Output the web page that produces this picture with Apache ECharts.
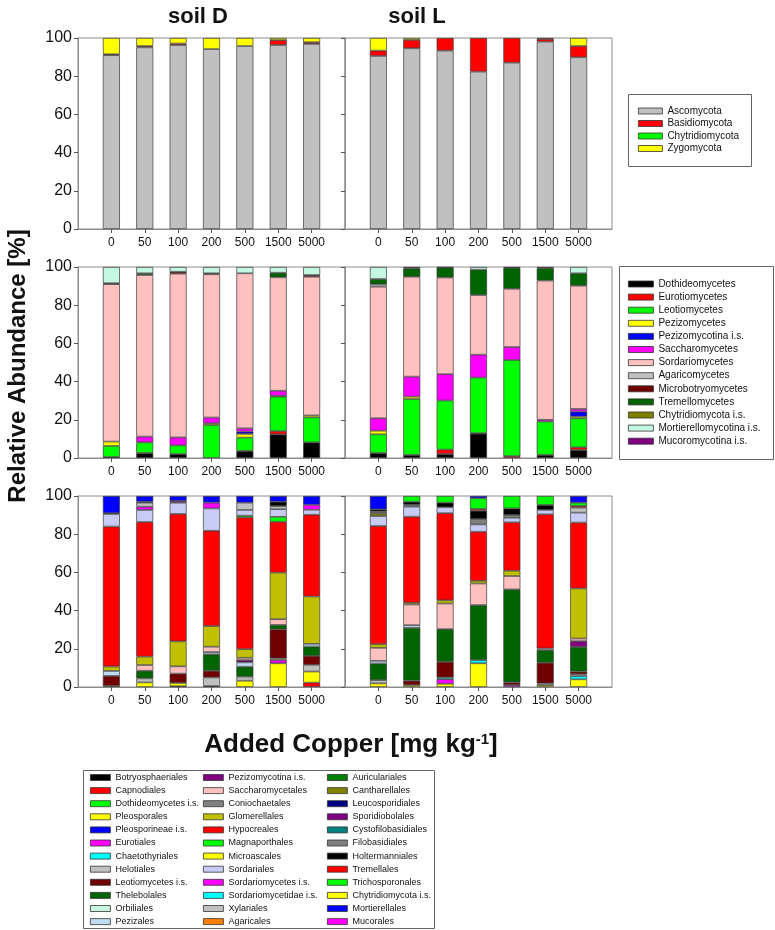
<!DOCTYPE html>
<html>
<head>
<meta charset="utf-8">
<script src="https://cdn.jsdelivr.net/npm/echarts@6/dist/echarts.min.js"></script>
<style>
  html, body { margin: 0; padding: 0; background: #fff; }
  #chart { width: 775px; height: 930px; }
</style>
</head>
<body>
<div id="chart"></div>
<script>
// added copper levels (mg/kg), one bar each
var copperLevels = ['0', '50', '100', '200', '500', '1500', '5000'];

// ---- phylum level ----
var phylumNames = ['Ascomycota', 'Basidiomycota', 'Chytridiomycota', 'Zygomycota'];
var phylumColors = ['#c0c0c0', '#ff0000', '#00ff00', '#ffff00'];
var phylumSoilD = [
  [91.0, 95.1, 96.3, 94.2, 95.8, 96.3, 96.9],
  [0.5, 0.7, 0.8, 0, 0, 2.6, 0.9],
  [0, 0, 0, 0, 0, 0, 0],
  [8.5, 4.2, 2.9, 5.8, 4.2, 1.1, 2.2]
];
var phylumSoilL = [
  [90.6, 94.6, 93.4, 82.4, 87.1, 98.1, 89.9],
  [2.8, 4.4, 6.6, 17.6, 12.9, 1.4, 5.9],
  [0, 0, 0, 0, 0, 0, 0],
  [6.6, 1.0, 0, 0, 0, 0.5, 4.2]
];

// ---- class level ----
var classNames = ['Dothideomycetes', 'Eurotiomycetes', 'Leotiomycetes', 'Pezizomycetes',
  'Pezizomycotina i.s.', 'Saccharomycetes', 'Sordariomycetes', 'Agaricomycetes',
  'Microbotryomycetes', 'Tremellomycetes', 'Chytridiomycota i.s.',
  'Mortierellomycotina i.s.', 'Mucoromycotina i.s.'];
var classColors = ['#000000', '#ff0000', '#00ff00', '#ffff00', '#0000ff', '#ff00ff', '#ffc0c0',
  '#c0c0c0', '#700000', '#006400', '#808000', '#c4f8e2', '#800080'];
var classSoilD = [
  [0.5, 2.6, 2.1, 0, 3.7, 12.4, 8.2],
  [0, 0, 0, 0, 0, 1.7, 0],
  [5.8, 5.6, 4.5, 17.3, 7.0, 18.0, 13.1],
  [2.3, 0, 0, 0.9, 1.9, 0.5, 1.0],
  [0, 0, 0, 0, 1.2, 0, 0],
  [0, 3.0, 4.2, 3.0, 1.7, 2.6, 0],
  [82.4, 84.6, 85.7, 75.0, 81.2, 59.4, 72.6],
  [0, 0, 0, 0, 0, 0, 0],
  [0.5, 0, 1.0, 0, 0, 0, 0.9],
  [0, 0.9, 0, 0.5, 0, 2.4, 0],
  [0, 0, 0, 0, 0, 0, 0],
  [8.5, 3.3, 2.5, 3.3, 3.3, 3.0, 4.2],
  [0, 0, 0, 0, 0, 0, 0]
];
var classSoilL = [
  [2.6, 1.6, 2.1, 12.7, 0, 1.6, 4.2],
  [0, 0, 2.3, 0.3, 1.0, 0, 1.4],
  [9.8, 29.3, 25.7, 29.1, 50.3, 17.5, 15.2],
  [1.9, 1.2, 0, 0, 0, 0, 0.9],
  [0, 0, 0, 0, 0, 0, 2.6],
  [6.5, 10.5, 13.8, 12.0, 6.8, 0.9, 1.4],
  [68.9, 52.3, 50.6, 31.2, 30.5, 72.9, 64.5],
  [1.2, 0, 0, 0, 0, 0, 0],
  [0, 0, 0, 0, 0, 0, 0],
  [2.8, 4.4, 5.2, 13.3, 11.0, 6.5, 6.5],
  [0, 0, 0, 0, 0, 0, 0],
  [6.3, 0, 0, 1.4, 0, 0, 3.3],
  [0, 0.7, 0.3, 0, 0.4, 0.6, 0]
];

// ---- order level ----
var orderNames = ['Botryosphaeriales', 'Capnodiales', 'Dothideomycetes i.s.', 'Pleosporales',
  'Pleosporineae i.s.', 'Eurotiales', 'Chaetothyriales', 'Helotiales', 'Leotiomycetes i.s.',
  'Thelebolales', 'Orbiliales', 'Pezizales',
  'Pezizomycotina i.s.', 'Saccharomycetales', 'Coniochaetales', 'Glomerellales', 'Hypocreales',
  'Magnaporthales', 'Microascales', 'Sordariales', 'Sordariomycetes i.s.',
  'Sordariomycetidae i.s.', 'Xylariales', 'Agaricales',
  'Auriculariales', 'Cantharellales', 'Leucosporidiales', 'Sporidiobolales',
  'Cystofilobasidiales', 'Filobasidiales', 'Holtermanniales', 'Tremellales',
  'Trichosporonales', 'Chytridiomycota i.s.', 'Mortierellales', 'Mucorales'];
var orderColors = ['#000000', '#ff0000', '#00ff00', '#ffff00', '#0000ff', '#ff00ff', '#00ffff',
  '#c0c0c0', '#700000', '#006400', '#c8f5e0', '#c0dcf0',
  '#800080', '#ffc0c0', '#808080', '#c0c000', '#ff0000', '#00ff00', '#ffff00', '#c8ccf5',
  '#ff00ff', '#00ffff', '#c0c0c0', '#ff8000',
  '#008000', '#808000', '#000080', '#800080', '#008080', '#808080', '#000000', '#ff0000',
  '#00ff00', '#ffff00', '#0000ff', '#ff00ff'];
var orderSoilD = [
  [0, 0, 0.4, 0.5, 0, 0, 0],
  [0, 0, 0, 0, 0, 0, 2.3],
  [0, 0, 0, 0, 0, 0, 0],
  [0.6, 2.4, 1.7, 0, 3.3, 12.4, 5.8],
  [0, 0, 0, 0, 0, 0, 0],
  [0, 0, 0, 0, 0, 1.7, 0],
  [0, 0, 0, 0, 0, 0, 0],
  [0, 2.1, 0, 4.5, 2.1, 0.9, 3.5],
  [5.2, 0, 4.9, 3.5, 0, 15.2, 4.7],
  [0, 4.0, 0, 8.6, 5.2, 2.3, 4.9],
  [0, 0, 0, 0, 0, 0, 0],
  [2.6, 0, 0, 1.2, 2.3, 0, 1.4],
  [0, 0, 0, 0, 1.2, 0, 0],
  [0, 3.0, 3.8, 2.8, 1.2, 3.0, 0],
  [0, 0, 0, 0, 0, 0, 0],
  [2.3, 4.4, 13.1, 10.8, 4.5, 24.4, 24.8],
  [73.3, 70.5, 66.7, 49.9, 69.0, 26.6, 42.8],
  [0, 0, 0, 0, 0.9, 2.6, 0],
  [0, 0, 0, 0, 0, 0, 0],
  [6.6, 6.3, 5.9, 11.7, 3.0, 4.0, 2.6],
  [0, 1.7, 0, 3.0, 0, 0, 2.6],
  [0, 0, 0, 0, 0, 0, 0],
  [0, 2.1, 0, 0, 3.8, 1.6, 0],
  [0, 0, 0, 0, 0, 0, 0],
  [0, 0, 0, 0, 0, 0, 0],
  [0, 0, 0, 0, 0, 0, 0],
  [0, 0, 0, 0, 0, 0, 0],
  [0, 0, 0.9, 0, 0, 0, 0],
  [0, 0, 0, 0, 0, 0, 0],
  [0, 0, 0, 0, 0, 0, 0],
  [0.4, 0.5, 0, 0, 0, 2.3, 0],
  [0, 0, 0, 0, 0, 0, 0],
  [0, 0, 0, 0, 0, 0, 0],
  [0, 0, 0, 0, 0, 0, 0],
  [9.0, 3.0, 2.6, 3.5, 3.5, 3.0, 4.6],
  [0, 0, 0, 0, 0, 0, 0]
];
var orderSoilL = [
  [0, 0, 0, 0, 0, 0, 0],
  [0, 0, 0, 0, 0, 0, 0],
  [0, 0, 0, 0, 0, 0, 0],
  [1.9, 1.0, 1.7, 12.4, 0, 1.0, 4.0],
  [0, 0, 0, 0, 0, 0, 0],
  [0, 0, 2.4, 0, 1.0, 0, 0],
  [0, 0, 0.9, 1.7, 0, 0, 1.7],
  [1.7, 0, 0, 0, 0, 0.9, 1.0],
  [0, 2.3, 8.2, 0, 1.4, 10.8, 1.4],
  [8.7, 27.7, 17.1, 28.8, 48.7, 6.6, 12.9],
  [0, 0, 0, 0, 0, 0, 0],
  [1.4, 1.4, 0, 0, 0, 0, 0],
  [0, 0, 0, 0, 0, 0, 3.0],
  [6.8, 10.8, 13.4, 11.3, 7.0, 0.9, 1.4],
  [0, 0, 0, 0, 0, 0, 0],
  [1.9, 0.9, 1.7, 1.4, 2.8, 0, 26.2],
  [61.9, 45.1, 45.6, 25.7, 25.3, 70.2, 34.5],
  [0, 0, 0, 0, 0, 0, 0],
  [0, 0, 0, 0, 0, 0, 0],
  [5.2, 5.2, 3.1, 3.8, 2.4, 2.3, 5.2],
  [0, 0, 0, 0, 0, 0, 0],
  [0, 0, 0, 0, 0, 0, 0],
  [0, 0, 0, 0, 0, 0, 2.6],
  [0, 0, 0, 0, 0, 0, 0],
  [0, 0, 0, 0, 0, 0, 0],
  [1.4, 0, 0, 0, 0, 0, 0],
  [0, 0, 0, 0, 0, 0, 0],
  [0, 0, 0, 0, 0, 0, 0],
  [0, 0, 0, 0, 0, 0, 0],
  [1.0, 1.0, 0, 2.8, 1.4, 0, 0],
  [1.1, 1.6, 2.4, 4.4, 3.5, 2.6, 0],
  [0, 0, 0, 0.9, 0, 0, 0.9],
  [0, 3.0, 3.5, 5.6, 6.5, 4.7, 1.7],
  [0, 0, 0, 0, 0, 0, 0],
  [7.0, 0, 0, 1.2, 0, 0, 3.5],
  [0, 0, 0, 0, 0, 0, 0]
];

var FONT = "'Liberation Sans', Arial, sans-serif";
var panelTops = [38, 267, 496];
var panelLefts = [78, 345];
// empty slot at each end of the frame, bars sit on slots 1..7
var slots = [''].concat(copperLevels, ['']);

var grids = [], xAxes = [], yAxes = [], series = [];

function addPanel(p, names, colors, rows) {
  var row = Math.floor(p / 2), soil = p % 2;
  grids.push({
    left: panelLefts[soil], top: panelTops[row], width: 267, height: 191,
    show: true, borderColor: '#8c8c8c', borderWidth: 1
  });
  xAxes.push({
    type: 'category', gridIndex: p, data: slots, boundaryGap: false,
    axisLine: { show: true, lineStyle: { color: '#8c8c8c' } },
    axisTick: {
      show: true, length: 4, lineStyle: { color: '#555' },
      interval: function (i) { return i > 0 && i < slots.length - 1; }
    },
    axisLabel: { interval: 0, margin: 8, fontSize: 12, color: '#111', fontFamily: FONT },
    splitLine: { show: false }
  });
  yAxes.push({
    type: 'value', gridIndex: p, min: 0, max: 100, interval: 20,
    axisLine: { show: true, lineStyle: { color: '#8c8c8c' } },
    axisTick: { show: true, length: 4, lineStyle: { color: '#555' } },
    axisLabel: { show: soil === 0, fontSize: 16, color: '#111', fontFamily: FONT, margin: 6 },
    splitLine: { show: false }
  });
  rows.forEach(function (vals, i) {
    var data = ['-'].concat(vals.map(function (v) { return v > 0 ? v : '-'; }), ['-']);
    series.push({
      type: 'bar',
      name: names[i],
      xAxisIndex: p,
      yAxisIndex: p,
      stack: 'panel' + p,
      barWidth: 17,
      itemStyle: { color: colors[i], borderColor: '#3a3a3a', borderWidth: 0.7 },
      data: data
    });
  });
}

addPanel(0, phylumNames, phylumColors, phylumSoilD);
addPanel(1, phylumNames, phylumColors, phylumSoilL);
addPanel(2, classNames, classColors, classSoilD);
addPanel(3, classNames, classColors, classSoilL);
addPanel(4, orderNames, orderColors, orderSoilD);
addPanel(5, orderNames, orderColors, orderSoilL);

function legendItems(names, colors, from, to) {
  var out = [];
  for (var i = from; i < to; i++) {
    out.push({ name: names[i], itemStyle: { color: colors[i] } });
  }
  return out;
}

function makeLegend(data, left, top, w, h, gap, size) {
  return {
    data: data, left: left, top: top, orient: 'vertical', padding: 0,
    icon: 'rect', itemWidth: w, itemHeight: h, itemGap: gap, selectedMode: false,
    itemStyle: { borderColor: '#333', borderWidth: 0.8 },
    textStyle: { fontSize: size, color: '#111', fontFamily: FONT }
  };
}

var legends = [
  makeLegend(legendItems(phylumNames, phylumColors, 0, 4), 638, 106, 24, 6, 2.5, 10),
  makeLegend(legendItems(classNames, classColors, 0, 13), 628, 279, 25, 6, 3.1, 10),
  makeLegend(legendItems(orderNames, orderColors, 0, 12), 90, 773, 20, 6, 4.1, 9),
  makeLegend(legendItems(orderNames, orderColors, 12, 24), 203, 773, 20, 6, 4.1, 9),
  makeLegend(legendItems(orderNames, orderColors, 24, 36), 327, 773, 20, 6, 4.1, 9)
];

var chart = echarts.init(document.getElementById('chart'), null, { renderer: 'canvas' });
chart.setOption({
  animation: false,
  backgroundColor: '#fff',
  title: [
    { text: 'soil D', left: 193, top: 12, textAlign: 'center', textVerticalAlign: 'middle',
      textStyle: { fontSize: 22, fontWeight: 'bold', color: '#111', fontFamily: FONT } },
    { text: 'soil L', left: 412, top: 12, textAlign: 'center', textVerticalAlign: 'middle',
      textStyle: { fontSize: 22, fontWeight: 'bold', color: '#111', fontFamily: FONT } },
    { text: 'Added Copper [mg kg{sup|-1}]', left: 346, top: 727, textAlign: 'center',
      textStyle: { fontSize: 26, fontWeight: 'bold', color: '#111', fontFamily: FONT,
        rich: { sup: { fontSize: 15, fontWeight: 'bold', verticalAlign: 'top', padding: [0, 0, 11, 0], fontFamily: FONT } } } }
  ],
  graphic: [
    { type: 'text', x: 18, y: 366, rotation: Math.PI / 2,
      style: { text: 'Relative Abundance [%]', font: 'bold 24px ' + FONT, fill: '#111',
        align: 'center', verticalAlign: 'middle' } },
    { type: 'rect', shape: { x: 628.5, y: 94.5, width: 123, height: 72 },
      style: { fill: null, stroke: '#666', lineWidth: 1 } },
    { type: 'rect', shape: { x: 619.5, y: 266.5, width: 154, height: 193 },
      style: { fill: null, stroke: '#666', lineWidth: 1 } },
    { type: 'rect', shape: { x: 83.5, y: 770.5, width: 351, height: 158 },
      style: { fill: null, stroke: '#666', lineWidth: 1 } }
  ],
  legend: legends,
  grid: grids,
  xAxis: xAxes,
  yAxis: yAxes,
  series: series
});
window.addEventListener('resize', function () { chart.resize(); });
</script>
</body>
</html>
